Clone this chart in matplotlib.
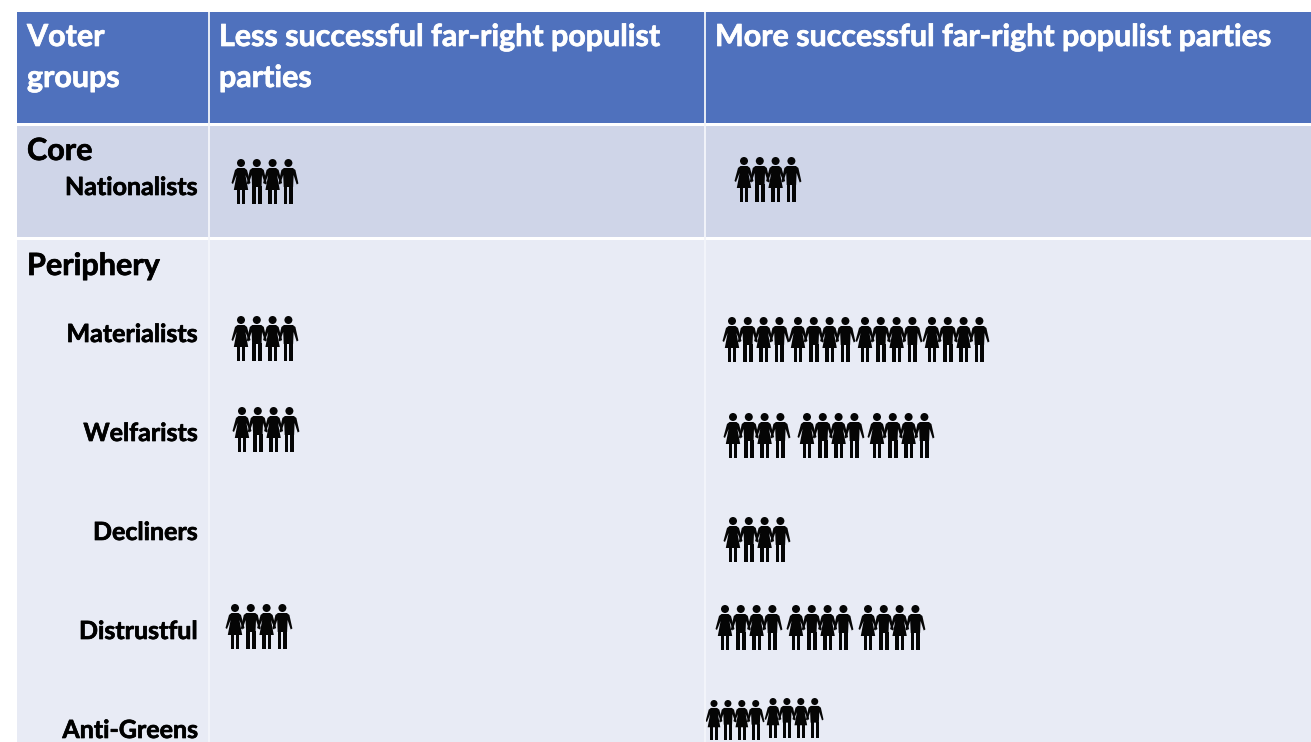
import matplotlib
matplotlib.use("Agg")
import matplotlib.pyplot as plt
import matplotlib.patheffects as pe
from matplotlib.patches import Circle, Polygon, Rectangle

plt.rcParams['font.family'] = ['Lato', 'DejaVu Sans']

# Datos de la tabla
voter_groups = ["Nationalists", "Materialists", "Welfarists", "Decliners", "Distrustful", "Anti-Greens"]
less_icon_groups = [1, 1, 1, 0, 1, 0]
more_icon_groups = [1, 4, 3, 1, 3, 2]
header_titles = ["Voter\ngroups", "Less successful far-right populist\nparties", "More successful far-right populist parties"]
section_titles = ["Core", "Periphery"]

# Posiciones en pixeles
label_y = [188, 335, 434, 533, 632, 731]
less_x = [241, 241, 242, 0, 235, 0]
less_top = [159, 316, 407, 0, 604, 0]
more_x = [[744], [732, 798, 865, 932], [733, 807, 877], [733], [725, 796, 868], [714, 773]]
more_top = [[157], [317, 317, 317, 317], [413, 413, 413], [517], [605, 605, 605], [700, 698]]

BLUE = "#4F71BD"
CORE = "#CFD5E8"
PERI = "#E8EBF5"


def person(ax, cx, top, female, s=1.0):
    # una figura de 45 px de alto
    def P(pts):
        ax.add_patch(Polygon([(cx + x * s, top + y * s) for x, y in pts], closed=True, fc="#050505", ec="none"))
    ax.add_patch(Circle((cx, top + 4 * s), 4.0 * s, fc="#050505", ec="none"))
    if female:
        P([(-3.5, 9), (3.5, 9), (6, 11), (9.5, 24), (8, 25), (4.4, 16), (7.2, 31), (-7.2, 31), (-4.4, 16), (-8, 25), (-9.5, 24), (-6, 11)])
        P([(-4.2, 31), (-1, 31), (-1, 45), (-4.2, 45)])
        P([(1, 31), (4.2, 31), (4.2, 45), (1, 45)])
    else:
        P([(-4.5, 9), (4.5, 9), (7, 11), (10, 24.5), (8.3, 25.5), (5.2, 16), (4.7, 28), (-4.7, 28), (-5.2, 16), (-8.3, 25.5), (-10, 24.5), (-7, 11)])
        P([(-4.7, 27), (-1, 27), (-1, 45), (-4.7, 45)])
        P([(1, 27), (4.7, 27), (4.7, 45), (1, 45)])


def icon_group(ax, x0, top, s=1.0):
    for i in range(4):
        person(ax, x0 + i * 15.8 * s, top, i % 2 == 0, s)


fig = plt.figure(figsize=(13.11, 7.42), dpi=100)
ax = fig.add_axes([0, 0, 1, 1])
ax.set_xlim(0, 1311)
ax.set_ylim(742, 0)
ax.axis("off")

# fondos
ax.add_patch(Rectangle((17, 12), 1294, 111, fc=BLUE, ec="none"))
ax.add_patch(Rectangle((17, 126), 1294, 111, fc=CORE, ec="none"))
ax.add_patch(Rectangle((17, 240), 1294, 502, fc=PERI, ec="none"))
for xv in [208.5, 704.5]:
    ax.plot([xv, xv], [12, 742], color="#F4F6FB", lw=1.3, solid_capstyle="butt")

# un poco mas de grosor en el texto
thick_w = [pe.withStroke(linewidth=0.5, foreground="white")]
thick_k = [pe.withStroke(linewidth=0.5, foreground="black")]

# encabezados
for xt, title in zip([27, 219, 715], header_titles):
    for j, line in enumerate(title.split("\n")):
        ax.text(xt, 46 + j * 41, line, color="white", fontsize=21.9, fontweight="bold", ha="left", va="baseline", path_effects=thick_w)

ax.text(27, 160, section_titles[0], color="black", fontsize=22, fontweight="bold", va="baseline", path_effects=thick_k)
ax.text(27, 275, section_titles[1], color="black", fontsize=22, fontweight="bold", va="baseline", path_effects=thick_k)

for i, name in enumerate(voter_groups):
    ax.text(198, label_y[i] + 7, name, color="black", fontsize=18, fontweight="bold", ha="right", va="baseline", path_effects=thick_k)
    for k in range(less_icon_groups[i]):
        icon_group(ax, less_x[i], less_top[i])
    for k in range(more_icon_groups[i]):
        icon_group(ax, more_x[i][k], more_top[i][k], 0.88 if name == "Anti-Greens" else 1.0)

fig.savefig("out.png", dpi=100)
